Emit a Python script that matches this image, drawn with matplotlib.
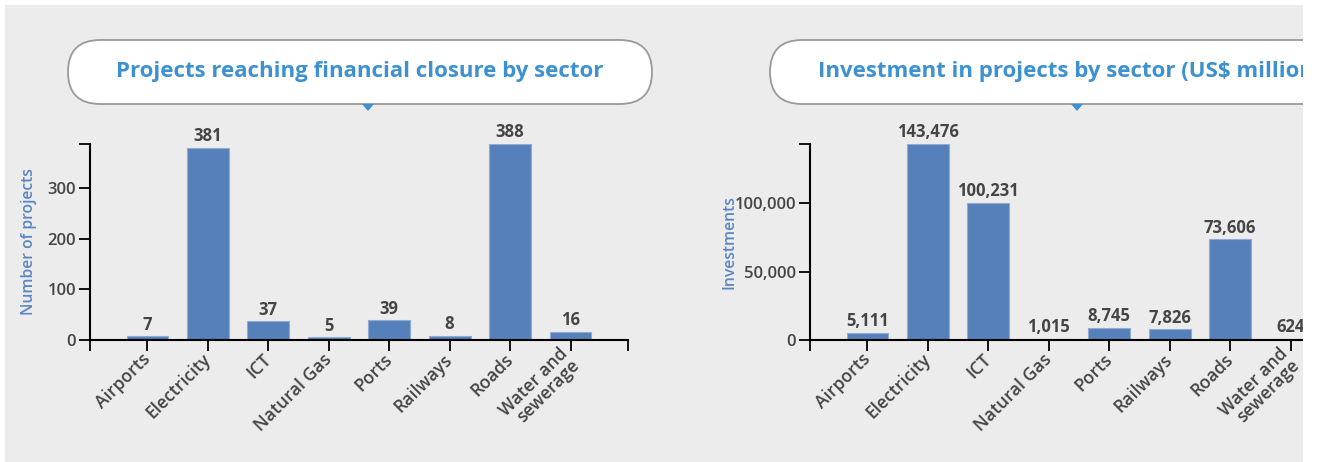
import matplotlib
matplotlib.use("Agg")
import matplotlib.pyplot as plt
from matplotlib.patches import Rectangle, FancyBboxPatch, Polygon
from matplotlib.ticker import FuncFormatter

plt.rcParams['font.family'] = ['Open Sans', 'DejaVu Sans']

sectors = ['Airports', 'Electricity', 'ICT', 'Natural Gas', 'Ports',
           'Railways', 'Roads', 'Water and\nsewerage']
projects = [7, 381, 37, 5, 39, 8, 388, 16]
investment = [5111, 143476, 100231, 1015, 8745, 7826, 73606, 624]

count_ticks = [0, 100, 200, 300]
invest_ticks = [0, 50000, 100000]

W, H = 1317, 462
BG = '#ececec'
BAR = '#5680b9'
TXT = '#454545'
YLAB = '#5b86c4'
TITLE = '#3d91d0'

fig = plt.figure(figsize=(W / 100, H / 100), dpi=100, facecolor='white')


def px(x, y):
    # pixel (from top-left) -> figure fraction
    return x / W, 1 - y / H


# grey panel behind everything
fig.patches.append(Rectangle(px(5, H), (1303 - 5) / W, (H - 5) / H,
                             transform=fig.transFigure, facecolor=BG,
                             edgecolor='none', zorder=-5))


def title_box(x0, x1, text, tip_x):
    y0, y1 = 40, 104
    r = (y1 - y0) / 2
    box = FancyBboxPatch((x0 + r, H - y1 + r), (x1 - x0) - 2 * r, 0,
                         boxstyle='round,pad=%f' % r,
                         transform=None, facecolor='white',
                         edgecolor='#9a9a9a', linewidth=1.3, zorder=2)
    fig.patches.append(box)
    fig.patches.append(Polygon([(tip_x - 6, H - 104), (tip_x + 6, H - 104),
                                (tip_x, H - 111)], closed=True, transform=None,
                               facecolor=TITLE, edgecolor='none', zorder=3))
    fig.text((x0 + x1) / 2 / W, 1 - 72 / H, text, ha='center', va='center',
             fontsize=16.0, fontweight='bold', color=TITLE, zorder=4)


def bar_panel(left, values, ticks, top, ylabel, fmt):
    ax = fig.add_axes([left / W, 122 / H, 538 / W, 196 / H])
    ax.set_facecolor('none')
    xs = range(len(sectors))
    ax.bar(xs, values, width=0.69, color=BAR, edgecolor='#8fabd6',
           linewidth=0.8, zorder=2)
    for x, v in zip(xs, values):
        ax.annotate(fmt(v), (x, v), xytext=(0, 2), textcoords='offset points',
                    ha='center', va='bottom', fontsize=12,
                    fontweight='bold', color=TXT)
    ax.set_xlim(-0.95, len(sectors) - 1 + 0.95)
    ax.set_ylim(0, top)
    ax.set_xticks(list(xs))
    ax.set_xticklabels(sectors, rotation=45, ha='right', va='center',
                       rotation_mode='anchor', multialignment='right',
                       linespacing=0.9, fontsize=12.7, fontweight='semibold')
    ax.set_yticks(ticks)
    ax.yaxis.set_major_formatter(FuncFormatter(lambda v, p: fmt(v)))
    # outer ticks at the domain ends
    ax.set_xticks([-0.95, len(sectors) - 1 + 0.95], minor=True)
    ax.set_yticks([top], minor=True)
    ax.tick_params(which='both', length=8, width=1.3, color='black',
                   direction='out', labelcolor=TXT, pad=2)
    ax.tick_params(axis='y', labelsize=12)
    ax.tick_params(axis='x', pad=4)
    for lab in ax.get_yticklabels():
        lab.set_fontweight('semibold')
    for s in ['top', 'right']:
        ax.spines[s].set_visible(False)
    for s in ['left', 'bottom']:
        ax.spines[s].set_linewidth(1.5)
        ax.spines[s].set_color('black')
    ax.set_ylabel(ylabel, color=YLAB, fontsize=11.3, fontweight='semibold',
                  labelpad=6)
    return ax


count_fmt = lambda v: '%d' % v
money_fmt = lambda v: '{:,.0f}'.format(v)

ax1 = bar_panel(90, projects, count_ticks, max(projects),
                'Number of projects', count_fmt)
ax2 = bar_panel(810, investment, invest_ticks, max(investment),
                'Investments', money_fmt)
ax1.yaxis.set_label_coords(-0.0985, 0.5)
ax2.yaxis.set_label_coords(-0.134, 0.5)

title_box(68, 652, 'Projects reaching financial closure by sector', 368)
title_box(770, 1380, 'Investment in projects by sector (US$ millions)', 1077)

# white strip on the right edge covers whatever runs past the panel
fig.patches.append(Rectangle(px(1303, H), (W - 1303) / W, 1,
                             transform=fig.transFigure, facecolor='white',
                             edgecolor='none', zorder=10))
fig.patches.append(Rectangle(px(0, 5), 1, 5 / H, transform=fig.transFigure,
                             facecolor='white', edgecolor='none', zorder=10))

fig.savefig('out.png', dpi=100, facecolor='white')
